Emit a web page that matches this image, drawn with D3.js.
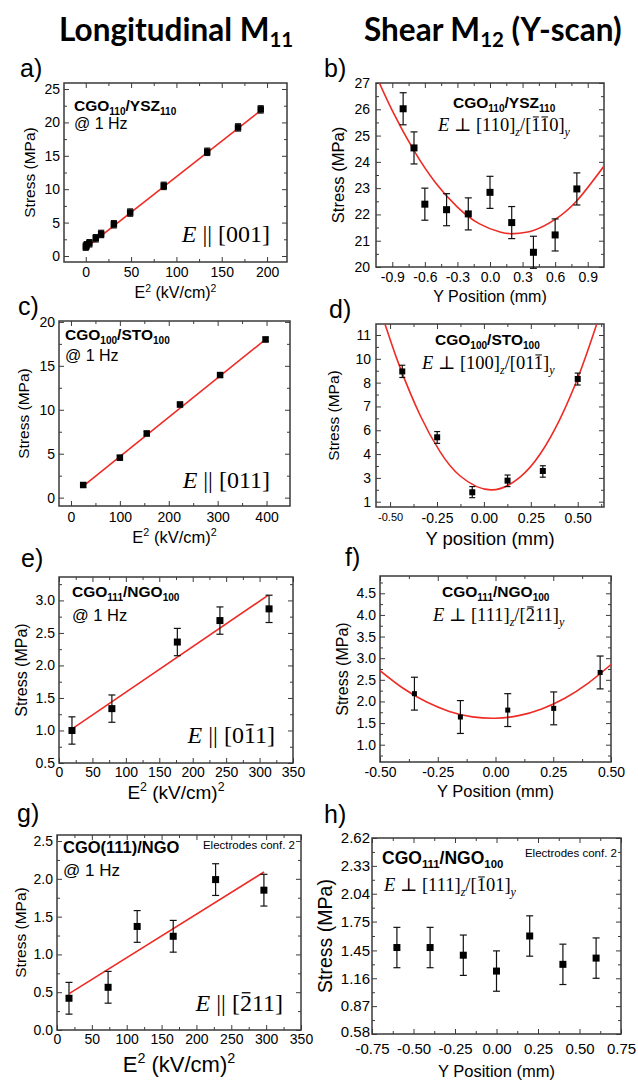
<!DOCTYPE html>
<html><head><meta charset="utf-8">
<script src="https://cdn.jsdelivr.net/npm/d3@7"></script>
<style>body{margin:0;background:#fff}</style>
</head><body>
<script>
// ---------------- DATA ----------------
// a) CGO110/YSZ110 longitudinal
const aX = [0, 1, 4, 11, 17, 31, 49, 86, 134, 168, 193];
const aY = [1.4, 1.6, 1.9, 2.65, 3.3, 4.75, 6.5, 10.5, 15.6, 19.25, 21.95];
const aErr = [0.55, 0.55, 0.55, 0.55, 0.55, 0.55, 0.55, 0.55, 0.55, 0.55, 0.55];
const aFitX = [0, 196];
const aFitY = [1.2, 22.1];
const aXTicks = [0, 50, 100, 150, 200];
const aYTicks = [0, 5, 10, 15, 20, 25];

// b) CGO110/YSZ110 shear
const bX = [-0.8, -0.7, -0.6, -0.4, -0.2, 0, 0.2, 0.4, 0.6, 0.8];
const bY = [26.02, 24.53, 22.39, 22.18, 22.02, 22.84, 21.69, 20.56, 21.22, 22.97];
const bErr = [0.61, 0.61, 0.61, 0.61, 0.61, 0.61, 0.61, 0.61, 0.61, 0.61];
const bFitX = [-1.05, -0.9, -0.7, -0.5, -0.3, -0.1, 0.1, 0.22, 0.4, 0.6, 0.8, 1.05];
const bFitY = [27.29, 25.95, 24.43, 23.20, 22.28, 21.65, 21.32, 21.27, 21.39, 21.81, 22.52, 23.84];
const bXTicks = [-0.9, -0.6, -0.3, 0, 0.3, 0.6, 0.9];
const bYTicks = [20, 21, 22, 23, 24, 25, 26, 27];

// c) CGO100/STO100 longitudinal
const cX = [25, 100, 155, 223, 305, 398];
const cY = [1.44, 4.55, 7.3, 10.6, 13.95, 18.0];
const cErr = [0.25, 0.25, 0.25, 0.25, 0.25, 0.25];
const cFitX = [25, 400];
const cFitY = [1.3, 18.1];
const cXTicks = [0, 100, 200, 300, 400];
const cYTicks = [0, 5, 10, 15, 20];

// d) CGO100/STO100 shear (axis labels as printed: unevenly valued, evenly placed)
const dX = [-0.435, -0.249, -0.062, 0.126, 0.314, 0.5];
const dY = [8.94, 5.41, 1.79, 2.77, 3.29, 8.31];
const dLo = [8.43, 4.9, 1.34, 2.27, 3.03, 7.9];
const dHi = [9.46, 5.89, 2.27, 3.12, 3.51, 8.8];
const dFitX = [-0.527, -0.5, -0.447, -0.340, -0.234, -0.128, 0.037, 0.191, 0.298, 0.404, 0.511, 0.601];
const dFitY = [11.45, 10.82, 9.28, 6.63, 4.20, 3.09, 1.99, 3.02, 3.98, 6.45, 8.83, 11.45];
const dXTicks = [-0.5, -0.25, 0, 0.25, 0.5];
const dYTicks = [1, 3, 4, 6, 7, 8, 10, 11];

// e) CGO111/NGO100 longitudinal
const eX = [19.4, 79.1, 177, 240.7, 314.2];
const eY = [1.0, 1.336, 2.36, 2.69, 2.87];
const eErr = [0.21, 0.21, 0.21, 0.21, 0.21];
const eFitX = [19, 313];
const eFitY = [1.02, 3.08];
const eXTicks = [0, 50, 100, 150, 200, 250, 300, 350];
const eYTicks = [0.5, 1.0, 1.5, 2.0, 2.5, 3.0];

// f) CGO111/NGO100 shear
const fX = [-0.351, -0.152, 0.053, 0.252, 0.453];
const fY = [2.18, 1.64, 1.80, 1.84, 2.67];
const fErr = [0.38, 0.38, 0.38, 0.38, 0.38];
const fFitX = [-0.5, -0.4, -0.3, -0.2, -0.1, 0, 0.1, 0.2, 0.3, 0.4, 0.5];
const fFitY = [2.713, 2.305, 1.991, 1.770, 1.644, 1.611, 1.672, 1.827, 2.075, 2.418, 2.854];
const fXTicks = [-0.5, -0.25, 0, 0.25, 0.5];
const fYTicks = [1.0, 1.5, 2.0, 2.5, 3.0, 3.5, 4.0, 4.5];

// g) CGO(111)/NGO longitudinal, electrodes conf. 2
const gX = [17.2, 73.3, 115, 166.7, 227.5, 296.8];
const gY = [0.42, 0.565, 1.37, 1.24, 1.99, 1.85];
const gErr = [0.21, 0.21, 0.21, 0.21, 0.21, 0.21];
const gFitX = [18, 297];
const gFitY = [0.485, 2.09];
const gXTicks = [0, 50, 100, 150, 200, 250, 300, 350];
const gYTicks = [0.0, 0.5, 1.0, 1.5, 2.0, 2.5];

// h) CGO111/NGO100 shear, electrodes conf. 2
const hX = [-0.6, -0.4, -0.2, 0, 0.2, 0.4, 0.6];
const hY = [1.48, 1.48, 1.40, 1.235, 1.60, 1.305, 1.37];
const hErr = [0.21, 0.21, 0.21, 0.21, 0.21, 0.21, 0.21];
const hXTicks = [-0.75, -0.5, -0.25, 0, 0.25, 0.5, 0.75];
const hYTicks = [0.58, 0.87, 1.16, 1.45, 1.75, 2.04, 2.33, 2.62];

// ---------------- DRAWING ----------------
const SANS = "'Liberation Sans', Arial, sans-serif";
const SERIF = "'Liberation Serif', 'DejaVu Serif', serif";
const HEAD = "Lato, 'Open Sans', sans-serif";
const FRAME = "#3a3a3a";
const RED = "#ee2b25";

const svg = d3.select('body').append('svg')
  .attr('width', 638).attr('height', 1080).style('display', 'block');
svg.append('rect').attr('width', 638).attr('height', 1080).attr('fill', '#fff');

function rich(parent, x, y, parts, o) {
  const t = parent.append('text').attr('x', x).attr('y', y)
    .attr('font-family', o.family).attr('font-size', o.size)
    .attr('font-weight', o.weight || 'normal')
    .attr('text-anchor', o.anchor || 'start').attr('fill', '#000');
  if (o.rotate) t.attr('transform', `rotate(-90,${x},${y})`).attr('dy', '0.35em');
  let shift = 0, idx = 0;
  const bars = [];
  parts.forEach(([s, k]) => {
    const ts = t.append('tspan').text(s);
    let want = 0;
    if (k.includes('sub')) { want = o.size * (o.subShift || 0.28); ts.attr('font-size', o.size * (o.subScale || 0.65)); }
    if (k.includes('sup')) { want = -o.size * 0.4; ts.attr('font-size', o.size * 0.65); }
    if (want !== shift) { ts.attr('dy', want - shift); shift = want; }
    if (k.includes('it')) ts.attr('font-style', 'italic');
    if (k.includes('bar')) bars.push(idx);
    idx += s.length;
  });
  const node = t.node();
  bars.forEach(i => {
    const a = node.getStartPositionOfChar(i), b = node.getEndPositionOfChar(i);
    const yy = a.y - o.size * 0.76;
    parent.append('line').attr('x1', a.x + o.size * 0.08).attr('x2', b.x - o.size * 0.06)
      .attr('y1', yy).attr('y2', yy).attr('stroke', '#000').attr('stroke-width', Math.max(1, o.size * 0.055));
  });
  return t;
}

function minorVals(scale, ticks, lo, hi) {
  const px = ticks.map(scale);
  const out = [];
  for (let i = 0; i < px.length - 1; i++) out.push((px[i] + px[i + 1]) / 2);
  const s0 = px[1] - px[0], s1 = px[px.length - 1] - px[px.length - 2];
  out.push(px[0] - s0 / 2, px[px.length - 1] + s1 / 2);
  return out.filter(p => p > Math.min(lo, hi) + 1 && p < Math.max(lo, hi) - 1).map(p => scale.invert(p));
}

function drawPanel(p) {
  const [L, R, T, B] = p.box;
  const g = svg.append('g');
  const x = d3.scaleLinear().domain(p.xDom).range([L, R]);
  let y;
  if (p.yEven) {
    const n = p.yTicks.length, top = T + p.yEven[1], bot = B - p.yEven[0];
    y = d3.scaleLinear().domain(p.yTicks).range(p.yTicks.map((_, i) => bot - i * (bot - top) / (n - 1)));
  } else {
    y = d3.scaleLinear().domain(p.yDom).range([B, T]);
  }
  const clipId = 'clip-' + p.key;
  g.append('clipPath').attr('id', clipId).append('rect')
    .attr('x', L).attr('y', T).attr('width', R - L).attr('height', B - T);

  const fs = p.tickFs || 14;
  const xMinor = minorVals(x, p.xTicks, L, R);
  const yMinor = minorVals(y, p.yTicks, B, T);

  function styleAxis(sel) {
    sel.select('.domain').remove();
    sel.selectAll('line').attr('stroke', FRAME).attr('stroke-width', 1);
    sel.attr('font-family', SANS).attr('font-size', fs);
    sel.selectAll('text').attr('fill', '#000');
  }
  const fmtX = p.xFmt || (d => d), fmtY = p.yFmt || (d => d);
  g.append('g').attr('transform', `translate(0,${B})`)
    .call(d3.axisBottom(x).tickValues(p.xTicks).tickSize(-5).tickSizeOuter(0).tickPadding(p.xPad).tickFormat(fmtX)).call(styleAxis);
  g.append('g').attr('transform', `translate(0,${B})`)
    .call(d3.axisBottom(x).tickValues(xMinor).tickSize(-3).tickSizeOuter(0).tickFormat('')).call(styleAxis);
  g.append('g').attr('transform', `translate(0,${T})`)
    .call(d3.axisTop(x).tickValues(p.xTicks).tickSize(-5).tickSizeOuter(0).tickFormat('')).call(styleAxis);
  g.append('g').attr('transform', `translate(0,${T})`)
    .call(d3.axisTop(x).tickValues(xMinor).tickSize(-3).tickSizeOuter(0).tickFormat('')).call(styleAxis);
  const yAx = g.append('g').attr('transform', `translate(${L},0)`)
    .call(d3.axisLeft(y).tickValues(p.yTicks).tickSize(-5).tickSizeOuter(0).tickPadding(p.yPad).tickFormat(fmtY)).call(styleAxis);
  g.append('g').attr('transform', `translate(${L},0)`)
    .call(d3.axisLeft(y).tickValues(yMinor).tickSize(-3).tickSizeOuter(0).tickFormat('')).call(styleAxis);
  g.append('g').attr('transform', `translate(${R},0)`)
    .call(d3.axisRight(y).tickValues(p.yTicks).tickSize(-5).tickSizeOuter(0).tickFormat('')).call(styleAxis);
  g.append('g').attr('transform', `translate(${R},0)`)
    .call(d3.axisRight(y).tickValues(yMinor).tickSize(-3).tickSizeOuter(0).tickFormat('')).call(styleAxis);

  if (p.xSmall) {
    g.selectAll('text').filter(d => p.xSmall.includes(d)).attr('font-size', 11);
  }
  if (p.yLowLift) {
    yAx.selectAll('text').filter(d => d === p.yTicks[0]).attr('y', -p.yLowLift);
  }

  g.append('rect').attr('x', L).attr('y', T).attr('width', R - L).attr('height', B - T)
    .attr('fill', 'none').attr('stroke', FRAME).attr('stroke-width', 1.5);

  if (p.fit) {
    const pts = p.fit.x.map((v, i) => [v, p.fit.y[i]]);
    g.append('path').attr('clip-path', `url(#${clipId})`)
      .attr('d', d3.line().x(d => x(d[0])).y(d => y(d[1])).curve(p.fit.x.length > 2 ? d3.curveNatural : d3.curveLinear)(pts))
      .attr('fill', 'none').attr('stroke', RED).attr('stroke-width', 1.6);
  }

  const data = p.pts.x.map((v, i) => ({
    x: v, y: p.pts.y[i],
    lo: p.pts.lo ? p.pts.lo[i] : p.pts.y[i] - p.pts.e[i],
    hi: p.pts.hi ? p.pts.hi[i] : p.pts.y[i] + p.pts.e[i]
  }));
  const cap = p.cap || 3.5, ms = p.ms || 7;
  const eb = g.append('g').attr('stroke', '#111').attr('stroke-width', 1.2);
  eb.selectAll('.v').data(data).join('line')
    .attr('x1', d => x(d.x)).attr('x2', d => x(d.x)).attr('y1', d => y(d.lo)).attr('y2', d => y(d.hi));
  eb.selectAll('.t').data(data).join('line')
    .attr('x1', d => x(d.x) - cap).attr('x2', d => x(d.x) + cap).attr('y1', d => y(d.hi)).attr('y2', d => y(d.hi));
  eb.selectAll('.b').data(data).join('line')
    .attr('x1', d => x(d.x) - cap).attr('x2', d => x(d.x) + cap).attr('y1', d => y(d.lo)).attr('y2', d => y(d.lo));
  g.append('g').selectAll('rect').data(data).join('rect')
    .attr('x', d => x(d.x) - ms / 2).attr('y', d => y(d.y) - ms / 2)
    .attr('width', ms).attr('height', ms).attr('fill', '#000');

  rich(svg, p.yTitle[0], (T + B) / 2, [['Stress (MPa)', '']],
    { family: SANS, size: p.yTitle[1], anchor: 'middle', rotate: true });
  rich(svg, (L + R) / 2, p.xTitle[0], p.xTitle[2],
    { family: SANS, size: p.xTitle[1], anchor: 'middle' });
}

const E2 = [['E', ''], ['2', 'sup'], [' (kV/cm)', ''], ['2', 'sup']];
const f1 = d => d.toFixed(1), f2 = d => d.toFixed(2);

drawPanel({ key: 'a', box: [64, 287, 83, 262], xDom: [-24, 222], yDom: [-0.9, 25.9],
  xTicks: aXTicks, yTicks: aYTicks, pts: { x: aX, y: aY, e: aErr }, fit: { x: aFitX, y: aFitY },
  xPad: 5, yPad: 4, ms: 6.5, cap: 3, yTitle: [30, 15.5], xTitle: [298, 16, E2] });
drawPanel({ key: 'b', box: [376, 604, 83, 267], xDom: [-1.05, 1.05], yDom: [20, 27],
  xTicks: bXTicks, yTicks: bYTicks, xFmt: f1, pts: { x: bX, y: bY, e: bErr }, fit: { x: bFitX, y: bFitY },
  xPad: 5, yPad: 6, ms: 7, cap: 3.5, yTitle: [338.5, 16.5], xTitle: [302, 16, [['Y Position (mm)', '']]] });
drawPanel({ key: 'c', box: [59, 290, 321, 506], xDom: [-24.5, 448], yDom: [-0.95, 20.1],
  xTicks: cXTicks, yTicks: cYTicks, pts: { x: cX, y: cY, e: cErr }, fit: { x: cFitX, y: cFitY },
  xPad: 6, yPad: 4, ms: 6.5, cap: 3, yTitle: [24, 15.5], xTitle: [543, 16.5, E2] });
drawPanel({ key: 'd', box: [376, 604, 324, 507], xDom: [-0.575, 0.64], yEven: [5.3, 11],
  xTicks: dXTicks, yTicks: dYTicks, xFmt: f2, xSmall: [-0.5], pts: { x: dX, y: dY, lo: dLo, hi: dHi }, fit: { x: dFitX, y: dFitY },
  xPad: 6.5, yPad: 5, ms: 6, cap: 3, yTitle: [334, 15.5], xTitle: [545, 18.5, [['Y position (mm)', '']]] });
drawPanel({ key: 'e', box: [59, 293, 577, 763], xDom: [0, 350], yDom: [0.5, 3.36],
  xTicks: eXTicks, yTicks: eYTicks, yFmt: f1, pts: { x: eX, y: eY, e: eErr }, fit: { x: eFitX, y: eFitY },
  xPad: 4, yPad: 4, ms: 7, cap: 3.5, yTitle: [21.7, 16], xTitle: [799, 19, E2] });
drawPanel({ key: 'f', box: [380, 611, 576, 762], xDom: [-0.5, 0.5], yDom: [0.6, 4.9],
  xTicks: fXTicks, yTicks: fYTicks, xFmt: f2, yFmt: f1, pts: { x: fX, y: fY, e: fErr }, fit: { x: fFitX, y: fFitY },
  xPad: 5, yPad: 4, ms: 5, cap: 3.5, yTitle: [342, 16], xTitle: [797, 16.5, [['Y Position (mm)', '']]] });
drawPanel({ key: 'g', box: [57, 301, 835, 1030], xDom: [0, 350], yDom: [0, 2.58],
  xTicks: gXTicks, yTicks: gYTicks, yFmt: f1, pts: { x: gX, y: gY, e: gErr }, fit: { x: gFitX, y: gFitY },
  xPad: 4, yPad: 4, ms: 7, cap: 3.5, yTitle: [21, 15.5], xTitle: [1072, 22, E2] });
drawPanel({ key: 'h', box: [372, 621, 838, 1034], xDom: [-0.75, 0.75], yDom: [0.58, 2.62],
  xTicks: hXTicks, yTicks: hYTicks, xFmt: f2, yFmt: f2, pts: { x: hX, y: hY, e: hErr },
  tickFs: 15, xPad: 9, yPad: 2, yLowLift: 2.5, ms: 7, cap: 3.5, yTitle: [325.5, 19.5], xTitle: [1076.5, 16.5, [['Y Position (mm)', '']]] });

// ---------------- HEADERS & LABELS ----------------
rich(svg, 59, 41, [['Longitudinal M', ''], ['11', 'sub']], { family: HEAD, size: 31.5, weight: 'bold', subShift: 0.2 });
rich(svg, 364, 41, [['Shear M', ''], ['12', 'sub'], [' (Y-scan)', '']], { family: HEAD, size: 31.5, weight: 'bold', subShift: 0.2 });

[['a)', 20, 77], ['b)', 324, 77], ['c)', 18, 315], ['d)', 329, 318],
 ['e)', 21, 567], ['f)', 345, 566], ['g)', 17, 822], ['h)', 324, 823]].forEach(([t, x, y]) => {
  svg.append('text').attr('x', x).attr('y', y).attr('font-family', SANS).attr('font-size', 25).text(t);
});

const boldO = s => ({ family: SANS, size: s, weight: 'bold', subShift: 0.24 });
const normO = s => ({ family: SANS, size: s });
const mathO = (s, a) => ({ family: SERIF, size: s, anchor: a || 'start' });

// a
rich(svg, 74, 111, [['CGO', ''], ['110', 'sub'], ['/YSZ', ''], ['110', 'sub']], boldO(15.5));
rich(svg, 74, 129, [['@ 1 Hz', '']], normO(16));
rich(svg, 270, 242, [['E', 'it'], [' || [001]', '']], mathO(24, 'end'));
// b
rich(svg, 453, 108, [['CGO', ''], ['110', 'sub'], ['/YSZ', ''], ['110', 'sub']], boldO(15.5));
rich(svg, 438, 131, [['E', 'it'], [' ⊥ [110]', ''], ['z', 'subit'], ['/[', ''], ['1', 'bar'], ['1', 'bar'], ['0]', ''], ['y', 'subit']], mathO(18.5));
// c
rich(svg, 65, 340, [['CGO', ''], ['100', 'sub'], ['/STO', ''], ['100', 'sub']], boldO(15.5));
rich(svg, 65, 361, [['@ 1 Hz', '']], normO(16));
rich(svg, 270, 488, [['E', 'it'], [' || [011]', '']], mathO(24, 'end'));
// d
rich(svg, 435, 345, [['CGO', ''], ['100', 'sub'], ['/STO', ''], ['100', 'sub']], boldO(15.5));
rich(svg, 422, 369, [['E', 'it'], [' ⊥ [100]', ''], ['z', 'subit'], ['/[01', ''], ['1', 'bar'], [']', ''], ['y', 'subit']], mathO(18.5));
// e
rich(svg, 72, 597, [['CGO', ''], ['111', 'sub'], ['/NGO', ''], ['100', 'sub']], boldO(15.5));
rich(svg, 72, 621, [['@ 1 Hz', '']], normO(16.5));
rich(svg, 275, 743, [['E', 'it'], [' || [0', ''], ['1', 'bar'], ['1]', '']], mathO(24, 'end'));
// f
rich(svg, 442, 597, [['CGO', ''], ['111', 'sub'], ['/NGO', ''], ['100', 'sub']], boldO(15.5));
rich(svg, 433, 621, [['E', 'it'], [' ⊥ [111]', ''], ['z', 'subit'], ['/[', ''], ['2', 'bar'], ['11]', ''], ['y', 'subit']], mathO(18.5));
// g
rich(svg, 63, 853, [['CGO(111)/NGO', '']], boldO(16.5));
rich(svg, 63, 876, [['@ 1 Hz', '']], normO(17));
rich(svg, 295, 849, [['Electrodes conf. 2', '']], { family: SANS, size: 11.5, anchor: 'end' });
rich(svg, 283, 1011, [['E', 'it'], [' || [', ''], ['2', 'bar'], ['11]', '']], mathO(24, 'end'));
// h
rich(svg, 382, 864, [['CGO', ''], ['111', 'sub'], ['/NGO', ''], ['100', 'sub']], boldO(17.5));
rich(svg, 617, 857, [['Electrodes conf. 2', '']], { family: SANS, size: 11.5, anchor: 'end' });
rich(svg, 384, 891, [['E', 'it'], [' ⊥ [111]', ''], ['z', 'subit'], ['/[', ''], ['1', 'bar'], ['01]', ''], ['y', 'subit']], mathO(18.5));
</script>
</body></html>
